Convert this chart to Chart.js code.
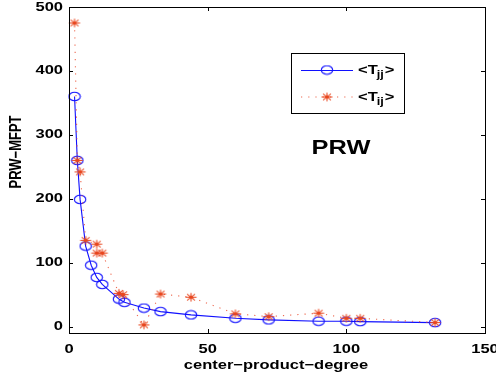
<!DOCTYPE html>
<html>
<head>
<meta charset="utf-8">
<script src="https://cdn.jsdelivr.net/npm/chart.js@4/dist/chart.umd.min.js"></script>
<style>
  body { margin: 0; background: #fff; }
  #wrap { width: 496px; height: 377px; position: relative; }
</style>
</head>
<body>
<div id="wrap"><canvas id="mfptChart"></canvas></div>
<script>
// 數據
const degJJ = [2, 3, 4, 6, 8, 10, 12, 18, 20, 27, 33, 44, 60, 72, 90, 100, 105, 132];
const tJJ = [360, 260, 199, 126, 96, 77, 66, 43, 38, 29, 23.5, 18.3, 13, 10.5, 8.4, 8.4, 7.8, 6.3];
const degIJ = [2, 3, 4, 6, 10, 10, 12, 18, 19.5, 27, 33, 44, 60, 72, 90, 100, 105, 132];
const tIJ = [475, 260, 242, 135, 129, 115, 115, 52, 50, 2.7, 51, 46, 20, 15.6, 21, 13, 13, 6.3];
const xTicks = [0, 50, 100, 150];
const yTicks = [0, 100, 200, 300, 400, 500];

const FONT = '"Liberation Sans", Arial, Helvetica, sans-serif';
const SX = 1.27; // 原圖文字水平拉伸
const BLUE = '#1010ff';
const RED = '#e8461e';

// 橢圓圈標記
function makeCircle() {
  const c = document.createElement('canvas');
  c.width = 14; c.height = 11;
  const g = c.getContext('2d');
  g.strokeStyle = BLUE;
  g.lineWidth = 1.1;
  g.beginPath();
  g.ellipse(7, 5.5, 5.7, 4.3, 0, 0, Math.PI * 2);
  g.stroke();
  return c;
}

// 星號標記
function makeStar() {
  const c = document.createElement('canvas');
  c.width = 14; c.height = 11;
  const g = c.getContext('2d');
  g.strokeStyle = RED;
  g.lineWidth = 1.1;
  const cx = 7, cy = 5.5, rx = 5.5, ry = 4.3;
  g.beginPath();
  g.moveTo(cx - rx, cy); g.lineTo(cx + rx, cy);
  g.moveTo(cx, cy - ry); g.lineTo(cx, cy + ry);
  g.moveTo(cx - rx * 0.72, cy - ry * 0.72); g.lineTo(cx + rx * 0.72, cy + ry * 0.72);
  g.moveTo(cx - rx * 0.72, cy + ry * 0.72); g.lineTo(cx + rx * 0.72, cy - ry * 0.72);
  g.stroke();
  return c;
}

const circleImg = makeCircle();
const starImg = makeStar();

function sText(ctx, str, x, y, size, align, rot) {
  ctx.save();
  ctx.translate(x, y);
  ctx.scale(SX, 1);
  if (rot) ctx.rotate(rot);
  ctx.font = 'bold ' + size + 'px ' + FONT;
  ctx.textAlign = align;
  ctx.textBaseline = 'middle';
  ctx.fillStyle = '#000';
  ctx.fillText(str, 0, 0);
  ctx.restore();
}

// 邊框、刻度、標籤、圖例
const framePlugin = {
  id: 'frame',
  afterDraw(chart) {
    const ctx = chart.ctx;
    const a = chart.chartArea;
    const xs = chart.scales.x, ys = chart.scales.y;

    ctx.save();
    ctx.strokeStyle = '#000';
    ctx.lineWidth = 1;
    ctx.strokeRect(a.left + 0.5, a.top + 0.5, a.right - a.left, a.bottom - a.top);

    ctx.beginPath();
    xTicks.forEach((v) => {
      const px = Math.round(xs.getPixelForValue(v)) + 0.5;
      ctx.moveTo(px, a.bottom); ctx.lineTo(px, a.bottom - 4);
      ctx.moveTo(px, a.top); ctx.lineTo(px, a.top + 4);
    });
    yTicks.forEach((v) => {
      const py = Math.round(ys.getPixelForValue(v)) + 0.5;
      ctx.moveTo(a.left, py); ctx.lineTo(a.left + 4, py);
      ctx.moveTo(a.right, py); ctx.lineTo(a.right - 4, py);
    });
    ctx.stroke();
    ctx.restore();

    xTicks.forEach((v) => sText(ctx, String(v), xs.getPixelForValue(v), 349, 13, 'center'));
    yTicks.forEach((v) => sText(ctx, String(v), 63, ys.getPixelForValue(v), 13, 'right'));

    sText(ctx, 'center\u2212product\u2212degree', 276, 365, 13, 'center');
    sText(ctx, 'PRW\u2212MFPT', 16, 152, 13, 'center', -Math.PI / 2);
    sText(ctx, 'PRW', 341, 148, 20, 'center');

    // 圖例
    ctx.save();
    ctx.fillStyle = '#fff';
    ctx.fillRect(291, 53, 113, 60);
    ctx.strokeStyle = '#000';
    ctx.lineWidth = 1;
    ctx.strokeRect(291.5, 53.5, 113, 60);

    ctx.strokeStyle = BLUE;
    ctx.lineWidth = 1.1;
    ctx.beginPath();
    ctx.moveTo(301, 70.5); ctx.lineTo(353, 70.5);
    ctx.stroke();
    ctx.drawImage(circleImg, 327 - 7, 70 - 5.5);

    ctx.strokeStyle = 'rgba(235,80,50,0.85)';
    ctx.setLineDash([1.2, 6]);
    ctx.beginPath();
    ctx.moveTo(301, 97); ctx.lineTo(353, 97);
    ctx.stroke();
    ctx.setLineDash([]);
    ctx.drawImage(starImg, 327 - 7, 97 - 5.5);
    ctx.restore();

    [[70, 'jj'], [97, 'ij']].forEach(([y, sub]) => {
      ctx.save();
      ctx.font = 'bold 13px ' + FONT;
      const w1 = ctx.measureText('<T').width * SX;
      ctx.font = 'bold 10px ' + FONT;
      const w2 = ctx.measureText(sub).width * SX;
      ctx.restore();
      sText(ctx, '<T', 358, y, 13, 'left');
      sText(ctx, sub, 358 + w1 - 1, y + 5, 10, 'left');
      sText(ctx, '>', 358 + w1 + w2, y, 13, 'left');
    });
  }
};

new Chart(document.getElementById('mfptChart'), {
  type: 'scatter',
  data: {
    datasets: [
      {
        label: '<Tjj>',
        data: degJJ.map((x, i) => ({ x: x, y: tJJ[i] })),
        showLine: true,
        borderColor: BLUE,
        borderWidth: 1.1,
        pointStyle: circleImg,
        order: 2,
      },
      {
        label: '<Tij>',
        data: degIJ.map((x, i) => ({ x: x, y: tIJ[i] })),
        showLine: true,
        borderColor: 'rgba(235,80,50,0.85)',
        borderWidth: 1.1,
        borderDash: [1.2, 6],
        pointStyle: starImg,
        order: 1,
      },
    ],
  },
  options: {
    responsive: true,
    maintainAspectRatio: false,
    animation: false,
    clip: false,
    layout: { padding: { left: 69, right: 11, top: 7, bottom: 44 } },
    scales: {
      x: { type: 'linear', min: 0, max: 150, display: false },
      y: { type: 'linear', min: -10, max: 500, display: false },
    },
    plugins: {
      legend: { display: false },
      tooltip: { enabled: false },
    },
  },
  plugins: [framePlugin],
});
</script>
</body>
</html>
